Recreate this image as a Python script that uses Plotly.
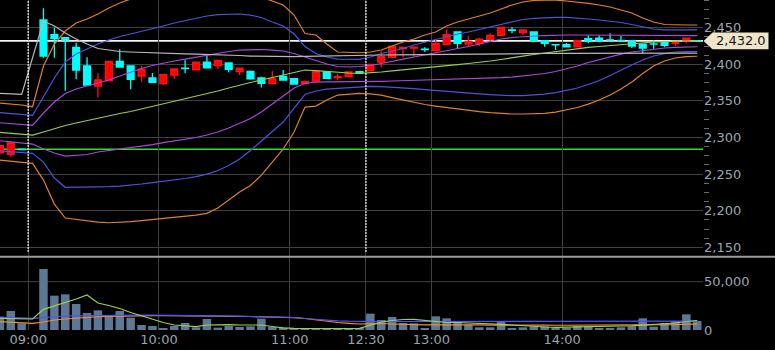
import plotly.graph_objects as go

# ---------------- data (bar index: 5-minute slots, -4..-2 previous day) ----------------
bar_index = list(range(-4, 61))

open_ = [2279.2, 2277.0, 2284.0, None,
         2460.5, 2440.4, 2436.3, 2423.2, 2397.7, 2370.4, 2377.6, 2404.1, 2397.7, 2384.0,
         2381.3, 2373.5, 2385.4, 2394.7, 2392.6, 2403.1, 2398.1, 2401.8, 2389.9, 2390.4,
         2381.3, 2373.5, 2383.6, 2380.3, 2374.0, 2377.2, 2389.5, 2381.7, 2383.1, 2389.9,
         2390.9, 2403.1, 2409.6, 2421.3, 2422.3, 2420.8, 2418.6, 2426.8, 2444.1, 2427.7,
         2428.7, 2434.2, 2439.6, 2447.0, 2443.2, 2444.1, 2432.2, 2426.9, 2426.8, 2424.0,
         2435.0, 2435.9, 2433.5, 2432.5, 2432.2, 2427.7, 2427.8, 2430.5, 2428.7, 2431.4, 2432.1]
high = [2290.0, 2294.0, 2284.3, None,
        2476.5, 2450.0, 2437.0, 2429.5, 2409.6, 2387.7, 2404.5, 2420.5, 2398.0, 2397.7,
        2388.0, 2386.0, 2394.0, 2405.9, 2403.5, 2413.7, 2406.0, 2402.0, 2395.0, 2391.0,
        2383.1, 2390.9, 2392.2, 2381.0, 2378.0, 2390.5, 2390.0, 2386.8, 2390.0, 2390.3,
        2400.5, 2418.0, 2425.5, 2424.0, 2424.6, 2423.2, 2433.2, 2447.8, 2444.6, 2438.7,
        2436.0, 2442.3, 2451.0, 2450.5, 2447.5, 2445.0, 2432.5, 2427.7, 2429.0, 2432.5,
        2439.6, 2439.6, 2442.3, 2438.7, 2433.2, 2428.0, 2433.2, 2431.0, 2432.0, 2436.5, 2432.2]
low = [2278.0, 2273.8, 2283.4, None,
       2409.0, 2409.0, 2364.0, 2379.5, 2371.7, 2354.9, 2377.6, 2396.0, 2365.9, 2376.2,
       2375.0, 2371.7, 2380.0, 2388.0, 2392.0, 2395.0, 2394.0, 2389.0, 2385.4, 2379.0,
       2368.3, 2373.0, 2378.0, 2372.0, 2373.0, 2376.8, 2380.5, 2378.6, 2382.5, 2387.7,
       2390.5, 2396.0, 2409.0, 2409.6, 2410.4, 2416.7, 2418.0, 2426.5, 2421.3, 2424.0,
       2425.0, 2430.5, 2439.0, 2442.3, 2440.0, 2431.8, 2424.0, 2419.5, 2423.5, 2423.5,
       2428.7, 2430.5, 2433.0, 2432.0, 2422.3, 2415.0, 2421.3, 2423.2, 2425.0, 2428.7, 2431.9]
close = [2288.8, 2293.5, 2283.6, None,
         2411.3, 2435.0, 2433.2, 2392.2, 2371.7, 2378.6, 2404.1, 2396.3, 2379.5, 2393.2,
         2375.4, 2385.8, 2393.6, 2394.3, 2403.1, 2395.0, 2405.5, 2393.2, 2394.9, 2380.0,
         2374.0, 2380.9, 2378.6, 2373.1, 2376.8, 2389.9, 2380.9, 2383.1, 2389.5, 2388.1,
         2400.0, 2410.4, 2424.6, 2423.2, 2423.6, 2420.2, 2428.7, 2440.4, 2428.7, 2431.4,
         2434.2, 2439.6, 2450.5, 2446.5, 2446.9, 2432.2, 2428.7, 2426.6, 2424.0, 2432.2,
         2431.4, 2432.2, 2433.2, 2432.2, 2425.0, 2422.3, 2427.6, 2426.0, 2431.4, 2435.9, 2432.0]

volume = [13800, 19670, 6900, None,
          63150, 35550, 36930, 26920, 17600, 20360, 15180, 19670, 12770, 5180,
          4140, 1040, 4140, 7250, 2760, 11390, 2420, 4140, 3110, 3800,
          11730, 3110, 2420, 1040, 1040, 1380, 1040, 1380, 1040, 1040,
          16910, 10350, 13460, 7250, 6900, 2070, 14150, 12080, 8280, 5520,
          2760, 2760, 9320, 2070, 2760, 3450, 3800, 1730, 2070, 4140,
          3800, 2070, 2070, 2760, 3800, 12080, 3450, 7250, 9320, 16220, 9320]

bb_upper3 = [2347.1, 2345.8, 2344.4, 2342.1,
             2397.7, 2427.7, 2445.5, 2456.4, 2461.9, 2468.7, 2476.9, 2483.7, 2489.2, 2493.3,
             2497.4, 2500.1, 2501.5, 2502.9, 2504.2, 2504.2, 2502.9, 2501.5, 2498.8, 2496.0,
             2491.9, 2486.5, 2481.0, 2467.3, 2442.1, 2440.0, 2427.7, 2416.8, 2416.1, 2415.8,
             2416.8, 2419.5, 2425.0, 2430.5, 2434.6, 2440.0, 2444.1, 2452.3, 2457.8, 2461.9,
             2466.0, 2470.1, 2475.5, 2481.0, 2485.1, 2487.2, 2487.8, 2487.8, 2486.5, 2485.1,
             2483.1, 2481.0, 2478.3, 2474.2, 2470.1, 2463.3, 2457.8, 2454.4, 2453.7, 2453.7, 2453.7]
bb_upper2 = [2333.9, 2332.8, 2331.4, 2330.3,
             2355.7, 2381.3, 2403.1, 2414.0, 2421.0, 2427.7, 2433.2, 2438.0, 2441.4, 2444.8,
             2449.0, 2452.3, 2456.4, 2459.8, 2463.2, 2466.0, 2467.8, 2468.7, 2468.7, 2467.3,
             2464.0, 2457.8, 2452.3, 2441.4, 2424.3, 2414.8, 2410.0, 2407.2, 2406.6, 2406.8,
             2410.0, 2414.8, 2418.2, 2421.6, 2426.4, 2430.5, 2433.9, 2437.3, 2441.4, 2444.1,
             2447.5, 2451.0, 2455.0, 2458.5, 2461.2, 2462.8, 2464.0, 2464.2, 2464.0, 2463.2,
             2461.9, 2460.5, 2459.2, 2457.1, 2454.4, 2451.0, 2448.2, 2446.9, 2446.9, 2446.9, 2446.9]
bb_upper1 = [2320.2, 2319.1, 2317.9, 2316.6,
             2333.5, 2348.5, 2360.1, 2366.3, 2370.4, 2374.5, 2378.6, 2384.0, 2389.5, 2394.3,
             2398.4, 2401.8, 2404.5, 2407.2, 2410.0, 2412.7, 2415.4, 2417.5, 2419.5, 2420.2,
             2420.2, 2419.5, 2418.2, 2414.8, 2410.0, 2404.5, 2400.4, 2397.0, 2396.3, 2397.0,
             2398.4, 2401.1, 2404.5, 2407.2, 2410.0, 2412.7, 2415.4, 2418.2, 2420.9, 2424.3,
             2427.7, 2431.1, 2434.6, 2436.6, 2438.0, 2438.7, 2439.3, 2440.0, 2440.0, 2440.0,
             2440.0, 2440.0, 2440.0, 2440.0, 2439.3, 2439.3, 2439.3, 2439.3, 2439.3, 2439.3, 2439.3]
bb_mid = [2307.1, 2305.9, 2304.6, 2303.4,
          2307.5, 2312.3, 2316.4, 2319.8, 2323.2, 2326.0, 2329.4, 2332.8, 2335.5, 2338.9,
          2342.4, 2345.8, 2349.2, 2352.6, 2356.0, 2359.4, 2363.5, 2367.6, 2371.7, 2375.1,
          2378.6, 2382.0, 2386.1, 2389.5, 2392.2, 2391.5, 2390.2, 2388.8, 2388.1, 2387.7,
          2388.1, 2389.5, 2390.9, 2392.2, 2393.6, 2395.0, 2396.3, 2398.4, 2399.7, 2401.1,
          2402.5, 2404.5, 2406.6, 2409.3, 2411.3, 2413.4, 2415.4, 2417.5, 2419.5, 2421.6,
          2423.0, 2424.3, 2425.7, 2427.0, 2428.4, 2429.1, 2430.5, 2431.1, 2431.8, 2432.2, 2432.4]
bb_lower1 = [2295.6, 2294.1, 2292.6, 2291.1,
             2284.3, 2278.8, 2274.7, 2275.4, 2276.8, 2280.2, 2282.2, 2283.6, 2285.6, 2287.7,
             2290.4, 2293.1, 2295.2, 2297.9, 2300.0, 2303.4, 2307.5, 2313.0, 2319.1, 2326.0,
             2334.8, 2345.8, 2357.4, 2367.6, 2373.8, 2375.8, 2376.1, 2376.1, 2376.1, 2376.2,
             2376.5, 2376.8, 2377.2, 2377.6, 2378.1, 2378.6, 2379.0, 2379.5, 2379.9, 2380.3,
             2380.9, 2381.3, 2381.8, 2382.6, 2384.0, 2385.4, 2387.4, 2390.2, 2393.6, 2397.7,
             2402.5, 2406.6, 2410.6, 2414.0, 2416.8, 2418.8, 2420.9, 2422.3, 2423.0, 2423.6, 2424.0]
bb_lower2 = [2281.9, 2280.7, 2279.6, 2278.4,
             2266.5, 2244.7, 2232.0, 2232.1, 2232.3, 2232.4, 2232.8, 2233.7, 2234.7, 2236.5,
             2238.5, 2240.3, 2241.9, 2244.0, 2246.7, 2250.1, 2254.9, 2261.7, 2270.6, 2282.2,
             2295.2, 2307.5, 2321.1, 2340.3, 2358.7, 2363.5, 2366.2, 2367.2, 2368.3, 2369.4,
             2369.9, 2369.6, 2369.0, 2368.0, 2366.9, 2365.5, 2364.2, 2362.8, 2361.7, 2360.8,
             2359.7, 2358.7, 2357.8, 2357.1, 2357.3, 2358.0, 2359.4, 2361.4, 2364.2, 2367.6,
             2372.4, 2377.8, 2384.7, 2392.2, 2399.0, 2405.8, 2411.3, 2414.7, 2416.8, 2417.2, 2417.5]
bb_lower3 = [2269.2, 2267.9, 2266.2, 2264.7,
             2241.9, 2209.1, 2190.0, 2188.0, 2185.9, 2184.5, 2183.6, 2183.9, 2185.2, 2186.6,
             2188.2, 2189.3, 2190.7, 2192.1, 2194.1, 2196.4, 2203.7, 2214.6, 2225.5, 2234.4,
             2248.7, 2266.5, 2284.3, 2307.5, 2341.6, 2343.0, 2351.2, 2358.0, 2359.4, 2360.4,
             2359.7, 2358.0, 2354.6, 2351.2, 2347.8, 2345.1, 2343.0, 2341.0, 2338.9, 2337.1,
             2335.5, 2334.1, 2332.8, 2332.1, 2332.1, 2332.5, 2333.0, 2334.8, 2337.5, 2341.0,
             2345.7, 2351.2, 2358.0, 2366.2, 2375.8, 2387.4, 2397.6, 2404.5, 2408.6, 2410.6, 2411.0]
avg_line = [2360.4, 2359.8, 2359.0, None,
            2459.2, 2452.3, 2442.8, 2434.6, 2427.7, 2421.6, 2419.5, 2417.5, 2416.8, 2416.1,
            2415.4, 2415.0, 2414.8, 2414.3, 2414.0, 2413.7, 2413.2, 2412.7, 2412.0, 2411.3,
            2410.9, 2410.6, 2410.6, 2410.6, 2410.9, 2411.3, 2411.6, 2411.9, 2412.2, 2412.3,
            2412.4, 2412.7, 2412.8, 2413.0, 2413.1, 2413.2, 2413.4, 2413.5, 2413.7, 2413.8,
            2413.9, 2414.0, 2414.2, 2414.3, 2414.5, 2414.6, 2414.8, 2414.8, 2414.9, 2414.9,
            2415.0, 2415.0, 2415.0, 2415.0, 2415.0, 2415.1, 2415.1, 2415.2, 2415.2, 2415.3, 2415.3]

vol_ma_short = [12110, 11900, 11590, 11390,
                21430, 24840, 28470, 32090, 36230, 27950, 25360, 22260, 18120, 14490,
                10870, 7760, 5180, 3930, 3420, 5180, 5690, 5490, 5180, 5180,
                5180, 3620, 2280, 1760, 1550, 1450, 1450, 1350, 1350, 1660,
                4660, 8280, 9830, 10870, 11080, 9830, 8800, 7760, 7760, 7450,
                7040, 6420, 5900, 5180, 4350, 3620, 3110, 2800, 2900, 3310,
                3620, 3830, 3930, 4140, 4350, 4970, 5490, 6000, 7250, 8800, 9830]
vol_ma_mid = [13150, 12840, 12420, 12110,
              12940, 13970, 14490, 14700, 14900, 15010, 15320, 15320, 15320, 15320,
              15320, 15320, 15010, 15010, 14900, 14800, 14700, 14490, 14280, 14080,
              13870, 13460, 13250, 12940, 11900, 10870, 10040, 9520, 9110, 8800,
              8590, 8700, 8800, 8800, 8800, 8700, 8800, 8900, 8900, 8900,
              8800, 8800, 8900, 8800, 8700, 8700, 8600, 8600, 8500, 8500,
              8500, 8500, 8500, 8500, 8500, 8600, 8600, 8700, 8800, 9000, 9100]
vol_ma_long = [8590, 8070, 7450, 6940,
               8280, 10350, 11390, 12420, 13250, 13770, 14080, 14390, 14600, 14800,
               14800, 14800, 14800, 14800, 14800, 14700, 14490, 14390, 14180, 13970,
               13770, 13460, 13150, 12730, 11900, 10350, 8800, 7760, 6940, 6210,
               6420, 6730, 6210, 5800, 5500, 5300, 5400, 5500, 5400, 5300,
               5200, 5100, 5200, 5100, 5000, 5000, 5000, 4900, 4900, 4900,
               5000, 5000, 5000, 5000, 5100, 5300, 5300, 5400, 5600, 6000, 6100]

tick_index = [-1, 11, 23, 30, 36, 48]
tick_labels = ["09:00", "10:00", "11:00", "12:30", "13:00", "14:00"]
session_open_index = [-1, 30]
last_price = 2432.0
prev_close = 2284.0

for s in (open_, high, low, close, volume, bb_upper3, bb_upper2, bb_upper1, bb_mid,
          bb_lower1, bb_lower2, bb_lower3, avg_line, vol_ma_short, vol_ma_mid, vol_ma_long):
    assert len(s) == len(bar_index), len(s)

# ---------------- styling / layout constants ----------------
GRID_SHIFT = -0.4
X_RANGE = [-3.99, 60.53]
PRICE_RANGE = [2137.2, 2487.84]
PRICE_DOM = [0.2221, 1.0]
VOL_RANGE = [0, 75570]
VOL_DOM = [0.0, 0.2212]
PLOT_W, PLOT_H = 703, 330
FONT = "DejaVu Sans"
LABEL_COLOR = "#9aa4ae"
GRID_COLOR = "#404040"

fig = go.Figure()

band_specs = [
    (bb_upper3, "#e0802a"), (bb_upper2, "#5050e0"), (bb_upper1, "#a848dc"),
    (bb_mid, "#9ccc48"),
    (bb_lower1, "#a848dc"), (bb_lower2, "#5050e0"), (bb_lower3, "#e0802a"),
    (avg_line, "#b8b8b8"),
]
for series, color in band_specs:
    fig.add_trace(go.Scatter(x=bar_index, y=series, mode="lines", connectgaps=True,
                             line=dict(color=color, width=1.2), hoverinfo="skip",
                             showlegend=False, xaxis="x", yaxis="y"))

ci = [i for i, o in zip(bar_index, open_) if o is not None]
fig.add_trace(go.Candlestick(
    x=ci,
    open=[v for v in open_ if v is not None],
    high=[v for v in high if v is not None],
    low=[v for v in low if v is not None],
    close=[v for v in close if v is not None],
    increasing=dict(line=dict(color="#ff1010", width=1.3), fillcolor="#ff0000"),
    decreasing=dict(line=dict(color="#00ffff", width=1.3), fillcolor="#00ffff"),
    whiskerwidth=0, showlegend=False, hoverinfo="skip", xaxis="x", yaxis="y"))

vi = [i for i, v in zip(bar_index, volume) if v is not None]
fig.add_trace(go.Bar(x=vi, y=[v for v in volume if v is not None],
                     marker=dict(color="#5d7894", line=dict(width=0)),
                     showlegend=False, hoverinfo="skip", xaxis="x2", yaxis="y2"))
for series, color in [(vol_ma_long, "#f0902a"), (vol_ma_mid, "#5050ff"), (vol_ma_short, "#9ad24e")]:
    fig.add_trace(go.Scatter(x=bar_index, y=series, mode="lines",
                             line=dict(color=color, width=1.2), hoverinfo="skip",
                             showlegend=False, xaxis="x2", yaxis="y2"))

grid_x = [i + GRID_SHIFT for i in tick_index]
shapes = []
# horizontal price reference lines
shapes.append(dict(type="line", xref="paper", yref="y", x0=0, x1=1, y0=prev_close, y1=prev_close,
                   line=dict(color="#33dd33", width=1.5), layer="between"))
shapes.append(dict(type="line", xref="paper", yref="y", x0=0, x1=1, y0=last_price, y1=last_price,
                   line=dict(color="#f4f4f4", width=1.6), layer="between"))
# session start dotted verticals
for si in session_open_index:
    xv = si + GRID_SHIFT
    shapes.append(dict(type="line", xref="x", yref="y", x0=xv, x1=xv, y0=2144, y1=PRICE_RANGE[1],
                       line=dict(color="#ffffff", width=1.5, dash="1.5px,1.5px"), layer="above"))
# volume 50,000 grid
shapes.append(dict(type="line", xref="paper", yref="y2", x0=0, x1=1, y0=50000, y1=50000,
                   line=dict(color=GRID_COLOR, width=1), layer="below"))
# panel separator
shapes.append(dict(type="line", xref="paper", yref="paper", x0=0, x1=775 / PLOT_W,
                   y0=PRICE_DOM[0], y1=PRICE_DOM[0], line=dict(color="#9c9c9c", width=2)))


def y_paper(p):
    return PRICE_DOM[0] + (p - PRICE_RANGE[0]) / (PRICE_RANGE[1] - PRICE_RANGE[0]) * (PRICE_DOM[1] - PRICE_DOM[0])


yc = y_paper(last_price)
hh = 8.4 / PLOT_H
tip = 1 + 0.5 / PLOT_W
b0 = 1 + 9.5 / PLOT_W
b1 = 1 + 65.5 / PLOT_W
shapes.append(dict(type="path", xref="paper", yref="paper",
                   path=f"M {tip} {yc} L {b0} {yc + hh} L {b1} {yc + hh} L {b1} {yc - hh} L {b0} {yc - hh} Z",
                   fillcolor="#efe5cb", line=dict(width=0), layer="above"))

annotations = [dict(xref="paper", yref="paper", x=1 + 37.5 / PLOT_W, y=yc, xanchor="center", yanchor="middle",
                    text=f"{last_price:,.1f}", showarrow=False,
                    font=dict(family=FONT, size=13, color="#151515"))]

tickfont = dict(family=FONT, size=13, color=LABEL_COLOR)
fig.update_layout(
    width=775, height=350,
    margin=dict(l=0, r=72, t=0, b=20),
    paper_bgcolor="#000000", plot_bgcolor="#000000",
    showlegend=False, bargap=0.22, boxgap=0.1,
    shapes=shapes, annotations=annotations,
    xaxis=dict(domain=[0, 1], anchor="y", range=X_RANGE, tickmode="array", tickvals=grid_x,
               showticklabels=False, showgrid=True, gridcolor=GRID_COLOR, gridwidth=1,
               zeroline=False, showline=False, ticks="", rangeslider=dict(visible=False)),
    xaxis2=dict(domain=[0, 1], anchor="y2", matches="x", range=X_RANGE, tickmode="array",
                tickvals=grid_x, ticktext=tick_labels, showticklabels=True, tickfont=tickfont,
                showgrid=True, gridcolor=GRID_COLOR, gridwidth=1, zeroline=False, showline=False,
                ticks="", rangeslider=dict(visible=False)),
    yaxis=dict(domain=PRICE_DOM, anchor="x", range=PRICE_RANGE, side="right", tick0=2150, dtick=50,
               tickformat=",", tickfont=tickfont, showgrid=True, gridcolor=GRID_COLOR, gridwidth=1,
               zeroline=False, showline=False, ticks="",
               minor=dict(tick0=2150, dtick=12.5, ticks="outside", ticklen=5, tickcolor="#6a6a6a",
                          showgrid=False)),
    yaxis2=dict(domain=VOL_DOM, anchor="x2", range=VOL_RANGE, side="right", tickmode="array",
                tickvals=[0, 50000], tickformat=",", tickfont=tickfont, showgrid=False,
                zeroline=False, showline=False, ticks=""),
)

fig.write_html("out.html")
